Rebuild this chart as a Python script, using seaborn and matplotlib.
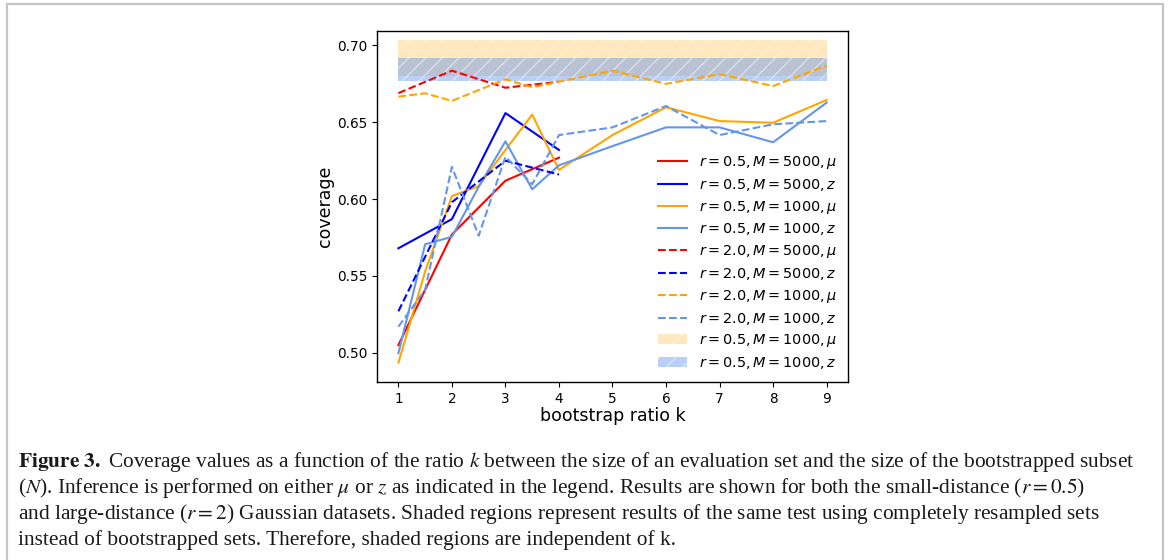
import matplotlib
matplotlib.use("Agg")
import matplotlib.pyplot as plt
import matplotlib.patches as mpatches
import seaborn as sns

# bootstrap ratios
k_long = [1, 1.5, 2, 2.5, 3, 3.5, 4, 5, 6, 7, 8, 9]
k_short = [1, 2, 3, 4]

# coverage, r = 0.5
cov_r05_m5000_mu = [0.505, 0.577, 0.612, 0.627]
cov_r05_m5000_z = [0.568, 0.587, 0.656, 0.632]
cov_r05_m1000_mu = [0.4935, 0.553, 0.602, 0.6085, 0.632, 0.655, 0.619,
                    0.6417, 0.6598, 0.6508, 0.6497, 0.6645]
cov_r05_m1000_z = [0.4997, 0.5706, 0.5755, 0.608, 0.6376, 0.6064, 0.622,
                   0.6345, 0.6467, 0.6467, 0.637, 0.6628]

# coverage, r = 2.0
cov_r2_m5000_mu = [0.669, 0.6836, 0.6725, 0.6764]
cov_r2_m5000_z = [0.527, 0.598, 0.625, 0.616]
cov_r2_m1000_mu = [0.6667, 0.6689, 0.6639, 0.671, 0.678, 0.6728, 0.6764,
                   0.6836, 0.675, 0.6814, 0.6736, 0.6869]
cov_r2_m1000_z = [0.517, 0.541, 0.621, 0.5762, 0.6276, 0.6097, 0.6417,
                  0.6467, 0.6606, 0.6417, 0.6487, 0.6508]

# resampled-set coverage bands (independent of k)
band_k = [1, 9]
band_mu = (0.680, 0.7036)
band_z = (0.677, 0.692)

fig = plt.figure(figsize=(11.7, 5.6), dpi=100)
ax = fig.add_axes([0.3222, 0.3179, 0.4026, 0.6267])

series = [
    (k_short, cov_r05_m5000_mu, "red", "-", r"$r=0.5, M=5000, \mu$"),
    (k_short, cov_r05_m5000_z, "blue", "-", r"$r=0.5, M=5000, z$"),
    (k_long, cov_r05_m1000_mu, "orange", "-", r"$r=0.5, M=1000, \mu$"),
    (k_long, cov_r05_m1000_z, "cornflowerblue", "-", r"$r=0.5, M=1000, z$"),
    (k_short, cov_r2_m5000_mu, "red", "--", r"$r=2.0, M=5000, \mu$"),
    (k_short, cov_r2_m5000_z, "blue", "--", r"$r=2.0, M=5000, z$"),
    (k_long, cov_r2_m1000_mu, "orange", "--", r"$r=2.0, M=1000, \mu$"),
    (k_long, cov_r2_m1000_z, "cornflowerblue", "--", r"$r=2.0, M=1000, z$"),
]
for kx, cov, col, ls, lab in series:
    sns.lineplot(x=kx, y=cov, color=col, linestyle=ls, linewidth=1.5,
                 label=lab, ax=ax, zorder=3)

ax.fill_between(band_k, [band_mu[0]] * 2, [band_mu[1]] * 2,
                facecolor="orange", edgecolor="white", alpha=0.25,
                hatch="//", linewidth=0, zorder=1,
                label=r"$r=0.5, M=1000, \mu$")
ax.fill_between(band_k, [band_z[0]] * 2, [band_z[1]] * 2,
                facecolor="cornflowerblue", edgecolor="white", alpha=0.45,
                hatch="//", linewidth=0, zorder=1,
                label=r"$r=0.5, M=1000, z$")

ax.set_xlim(0.6, 9.4)
ax.set_ylim(0.481, 0.7094)
ax.set_xticks(range(1, 10))
ax.set_yticks([0.50, 0.55, 0.60, 0.65, 0.70])
ax.set_yticklabels(["0.50", "0.55", "0.60", "0.65", "0.70"])
ax.tick_params(labelsize=9.8, colors="black")
ax.set_xlabel("bootstrap ratio k", fontsize=12.5, labelpad=1)
ax.set_ylabel("coverage", fontsize=12.5, labelpad=2)
for s in ax.spines.values():
    s.set_color("black")
    s.set_linewidth(1.0)

ax.legend(loc="lower right", frameon=False, fontsize=10.4,
          labelspacing=0.4, borderaxespad=0.35)

# framed caption box
fig.patches.append(mpatches.Rectangle(
    (7 / 1170, -0.05), (1163 - 7) / 1170, 1.05 - 4 / 560,
    transform=fig.transFigure, fill=False, edgecolor="#c4c4c4",
    linewidth=1.6))

caption = [
    r"$\mathbf{Figure\ 3.}$ Coverage values as a function of the ratio $k$ between the size of an evaluation set and the size of the bootstrapped subset",
    r"($N$). Inference is performed on either $\mu$ or $z$ as indicated in the legend. Results are shown for both the small-distance ($r=0.5$)",
    r"and large-distance ($r=2$) Gaussian datasets. Shaded regions represent results of the same test using completely resampled sets",
    r"instead of bootstrapped sets. Therefore, shaded regions are independent of k.",
]
for i, line in enumerate(caption):
    fig.text(18 / 1170, 1 - (467 + 26 * i) / 560, line,
             family="Liberation Serif", fontsize=15.4, va="baseline",
             ha="left", math_fontfamily="stix", color="#1a1a1a")

fig.savefig("out.png", dpi=100)
